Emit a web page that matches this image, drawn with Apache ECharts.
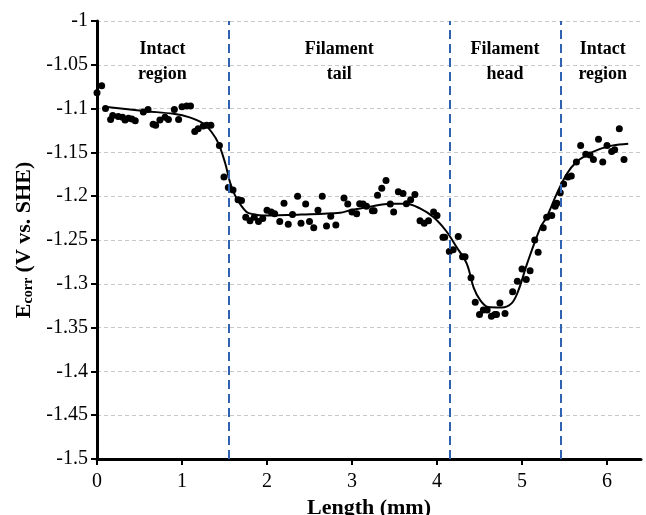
<!DOCTYPE html>
<html><head><meta charset="utf-8">
<script src="https://cdn.jsdelivr.net/npm/echarts@6/dist/echarts.min.js"></script>
<style>html,body{margin:0;padding:0;background:#fff}#c{width:646px;height:515px}</style>
</head><body><div id="c"></div>
<script>
var scatterX = [0.00,0.055,0.10,0.16,0.185,0.25,0.30,0.33,0.37,0.41,0.45,0.545,0.60,0.66,0.69,0.74,0.80,0.84,0.91,0.96,1.00,1.055,1.10,1.15,1.19,1.25,1.29,1.34,1.44,1.494,1.545,1.60,1.66,1.70,1.75,1.80,1.85,1.90,1.95,2.00,2.05,2.09,2.15,2.20,2.25,2.30,2.36,2.40,2.455,2.50,2.55,2.60,2.65,2.70,2.75,2.81,2.906,2.95,3.00,3.055,3.09,3.13,3.17,3.24,3.26,3.30,3.35,3.40,3.45,3.49,3.545,3.60,3.64,3.69,3.74,3.80,3.85,3.90,3.96,4.00,4.07,4.09,4.145,4.19,4.25,4.30,4.33,4.40,4.45,4.50,4.545,4.59,4.64,4.68,4.70,4.74,4.80,4.89,4.945,5.00,5.05,5.095,5.15,5.19,5.25,5.29,5.35,5.39,5.41,5.45,5.49,5.54,5.58,5.64,5.69,5.75,5.80,5.84,5.90,5.95,6.00,6.055,6.09,6.145,6.20];
var scatterY = [-1.082,-1.074,-1.100,-1.1125,-1.108,-1.109,-1.110,-1.113,-1.111,-1.112,-1.114,-1.104,-1.101,-1.118,-1.119,-1.113,-1.110,-1.1125,-1.101,-1.1125,-1.098,-1.097,-1.097,-1.126,-1.123,-1.120,-1.119,-1.119,-1.142,-1.178,-1.190,-1.193,-1.204,-1.205,-1.224,-1.228,-1.224,-1.229,-1.2255,-1.216,-1.218,-1.220,-1.229,-1.208,-1.232,-1.221,-1.200,-1.231,-1.209,-1.229,-1.236,-1.216,-1.200,-1.234,-1.223,-1.233,-1.202,-1.209,-1.218,-1.220,-1.2085,-1.209,-1.2115,-1.2165,-1.2165,-1.199,-1.191,-1.182,-1.209,-1.218,-1.195,-1.197,-1.2085,-1.204,-1.198,-1.228,-1.231,-1.228,-1.218,-1.222,-1.247,-1.247,-1.263,-1.261,-1.246,-1.269,-1.269,-1.293,-1.321,-1.335,-1.330,-1.330,-1.337,-1.335,-1.335,-1.322,-1.334,-1.309,-1.297,-1.283,-1.295,-1.285,-1.250,-1.264,-1.236,-1.224,-1.222,-1.2115,-1.208,-1.196,-1.186,-1.178,-1.177,-1.161,-1.142,-1.152,-1.153,-1.158,-1.135,-1.161,-1.142,-1.149,-1.147,-1.123,-1.158];
var fitX = [0.09,0.58,0.90,1.09,1.25,1.35,1.43,1.51,1.565,1.64,1.76,1.84,1.96,2.4,2.86,2.98,3.21,3.45,3.64,3.80,3.96,4.11,4.23,4.35,4.43,4.51,4.60,4.76,4.88,4.96,5.06,5.22,5.29,5.41,5.53,5.64,5.76,5.92,6.07,6.25];
var fitY = [-1.098,-1.103,-1.106,-1.110,-1.117,-1.127,-1.140,-1.163,-1.184,-1.202,-1.218,-1.2205,-1.222,-1.221,-1.219,-1.216,-1.212,-1.2085,-1.2085,-1.214,-1.224,-1.240,-1.258,-1.277,-1.304,-1.319,-1.3265,-1.327,-1.322,-1.307,-1.277,-1.235,-1.224,-1.197,-1.174,-1.161,-1.153,-1.146,-1.142,-1.140];
var boundaries = [1.55, 4.15, 5.45];
var regionNames = ['Intact\nregion', 'Filament\ntail', 'Filament\nhead', 'Intact\nregion'];
var regionCenters = [0.77, 2.85, 4.8, 5.95];
var xTicks = [0,1,2,3,4,5,6];

var chart = echarts.init(document.getElementById('c'));
var serif = '"Liberation Serif","DejaVu Serif",serif';
function zip(a,b){return a.map(function(v,i){return [v,b[i]];});}
chart.setOption({
  animation:false,
  grid:{left:97,right:5,top:21,bottom:56,containLabel:false,outerBoundsMode:'none'},
  xAxis:{type:'value',min:0,max:6.4,interval:1,
    axisLine:{lineStyle:{color:'#000',width:3}},
    axisTick:{show:true,length:6,inside:false,lineStyle:{color:'#000',width:2},customValues:xTicks},
    axisLabel:{color:'#000',fontFamily:serif,fontSize:20,margin:13,customValues:xTicks},
    splitLine:{show:false},
    name:'Length (mm)',nameLocation:'middle',nameGap:35,
    nameTextStyle:{color:'#000',fontFamily:serif,fontSize:22,fontWeight:'bold'}},
  yAxis:{type:'value',min:-1.5,max:-1,interval:0.05,
    axisLine:{show:true,onZero:false,lineStyle:{color:'#000',width:3}},
    axisTick:{show:true,length:6,inside:false,lineStyle:{color:'#000',width:2}},
    axisLabel:{color:'#000',fontFamily:serif,fontSize:20,margin:9},
    splitLine:{show:true,lineStyle:{color:'#c8c8c8',type:[4,3],width:1}},
    name:'{m|E}{s|corr}{m| (V vs. SHE)}',nameLocation:'middle',nameGap:62,nameRotate:90,
    nameTextStyle:{color:'#000',fontFamily:serif,fontSize:22,fontWeight:'bold',
      rich:{m:{fontFamily:serif,fontSize:22,fontWeight:'bold',color:'#000'},
            s:{fontFamily:serif,fontSize:14,fontWeight:'bold',color:'#000',verticalAlign:'bottom',padding:[8,0,0,0]}}}},
  series:[
    {type:'scatter',data:zip(scatterX,scatterY),symbol:'circle',symbolSize:7,
     itemStyle:{color:'#000',opacity:1},z:3,
     markLine:{silent:true,symbol:['none','none'],label:{show:false},
       lineStyle:{color:'#2F62B0',type:[9,5],width:2,opacity:1},
       data:boundaries.map(function(b){return {xAxis:b};})}},
    {type:'line',data:zip(fitX,fitY),smooth:0.35,showSymbol:false,
     lineStyle:{color:'#000',width:2},z:4},
    {type:'scatter',data:regionCenters.map(function(c,i){return {value:[c,-1.047],name:regionNames[i]};}),
     symbolSize:0,silent:true,itemStyle:{opacity:1},
     label:{show:true,position:'inside',formatter:function(p){return p.name;},
       color:'#000',opacity:1,fontFamily:serif,fontSize:18,fontWeight:'bold',lineHeight:25,align:'center'}}
  ]
});
</script></body></html>
